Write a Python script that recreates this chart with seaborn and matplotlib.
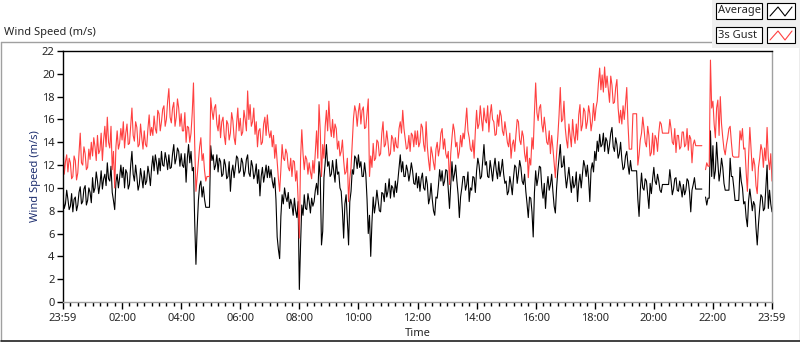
import matplotlib
matplotlib.use("Agg")
import matplotlib.pyplot as plt
import numpy as np
import pandas as pd
import seaborn as sns
from matplotlib.lines import Line2D
from matplotlib.patches import Rectangle
from matplotlib.ticker import MultipleLocator

nan = np.nan

# logger samples: on the 5-minute mark (23:59 -> 23:59 next day) and halfway between
minutes = np.arange(0, 24 * 60 + 1, 5)
half_minutes = minutes[:-1] + 2.5

# one row per hour; the last row of the on-mark lists carries the closing sample
average = [
    9.4, 8.6, 9.0, 8.4, 7.9, 9.2, 8.5, 10.1, 8.8, 10.2, 8.9, 9.6,
    10.9, 10.0, 10.6, 10.3, 9.9, 11.2, 12.2, 10.6, 9.6, 8.1, 11.2, 10.9,
    10.9, 10.0, 11.3, 10.3, 13.2, 10.6, 11.0, 10.3, 10.9, 11.5, 10.6, 11.2,
    11.8, 11.5, 12.2, 12.6, 13.2, 11.9, 12.5, 12.9, 11.8, 13.8, 12.6, 13.2,
    13.0, 11.8, 10.5, 13.8, 13.2, 11.8, 3.3, 8.9, 10.6, 10.1, 8.3, 8.3,
    13.7, 12.9, 12.0, 11.4, 12.3, 11.2, 12.0, 11.0, 9.7, 12.0, 11.8, 12.6,
    11.5, 12.2, 11.5, 12.9, 11.0, 11.9, 11.2, 10.4, 9.3, 11.8, 11.2, 10.9,
    10.9, 10.6, 10.9, 5.7, 3.8, 9.4, 10.0, 8.8, 8.2, 8.5, 9.1, 7.4,
    1.1, 8.5, 9.4, 8.1, 8.8, 9.1, 8.8, 10.4, 12.3, 5.0, 10.9, 13.8,
    12.3, 11.2, 11.4, 12.5, 11.4, 9.7, 5.6, 9.4, 5.0, 9.7, 11.2, 12.6,
    12.9, 12.3, 11.0, 11.2, 6.0, 4.0, 9.2, 8.6, 8.9, 7.9, 9.5, 10.4,
    9.7, 9.1, 10.0, 10.6, 10.6, 12.9, 12.3, 11.0, 11.5, 11.3, 11.5, 10.3,
    10.0, 9.7, 11.3, 9.8, 10.3, 9.1, 9.0, 7.6, 9.1, 11.6, 11.5, 10.6,
    11.5, 8.2, 12.3, 11.2, 10.6, 7.4, 10.0, 11.0, 10.3, 8.8, 9.8, 10.9,
    11.5, 12.0, 11.0, 13.8, 12.3, 10.9, 11.6, 11.8, 11.5, 12.3, 11.6, 11.2,
    10.6, 9.7, 10.3, 10.9, 11.8, 11.3, 11.8, 10.3, 9.7, 7.4, 9.1, 5.7,
    11.5, 10.9, 11.8, 9.1, 8.2, 11.0, 10.3, 9.7, 7.8, 11.5, 13.8, 11.9,
    11.1, 10.9, 10.6, 11.0, 10.3, 8.8, 11.2, 11.2, 11.9, 12.0, 8.8, 12.2,
    13.2, 14.1, 14.7, 13.8, 13.2, 14.1, 13.8, 15.3, 13.2, 13.8, 13.0, 12.5,
    11.8, 13.2, 11.2, 11.5, 11.5, 11.5, 7.5, 11.3, 9.8, 10.6, 8.2, 9.5,
    11.8, 10.3, 10.6, 9.6, 10.3, 10.3, 10.3, 10.6, 9.9, 10.9, 9.7, 10.0,
    10.3, 9.8, 10.6, 7.9, 10.3, 9.9, 9.9, 9.9, nan, 9.2, 9.1, 15.0,
    13.7, 11.5, 12.2, 11.4, 11.8, 9.8, 9.8, 12.6, 11.0, 8.9, 8.9, 11.8,
    10.0, 8.8, 6.6, 9.9, 8.0, 8.5, 5.0, 8.2, 9.2, 8.2, 12.0, 9.8, 7.9,
]

average_half = [
    8.2, 9.8, 8.1, 9.5, 9.0, 8.0, 9.6, 8.6, 9.9, 8.5, 10.0, 8.7,
    9.6, 11.4, 9.5, 11.5, 10.8, 10.2, 10.8, 11.9, 8.9, 10.5, 10.0, 12.0,
    11.8, 11.6, 9.9, 12.0, 11.2, 12.0, 9.8, 11.7, 10.0, 10.3, 11.9, 10.2,
    12.8, 12.9, 11.2, 11.5, 12.0, 13.1, 11.6, 11.7, 13.0, 12.1, 13.5, 11.9,
    12.0, 13.0, 12.6, 12.2, 11.5, 7.0, 6.5, 10.2, 9.2, 9.0, 8.3, 8.3,
    12.4, 11.6, 12.9, 12.6, 11.0, 12.5, 10.8, 12.3, 11.4, 10.9, 12.8, 11.3,
    12.6, 11.0, 12.5, 11.3, 12.4, 10.8, 12.1, 11.6, 11.0, 10.5, 12.0, 11.9,
    11.6, 10.0, 9.0, 4.6, 7.5, 8.6, 9.2, 9.6, 9.0, 7.6, 8.0, 8.8,
    5.0, 7.6, 8.2, 9.5, 7.8, 8.4, 9.8, 9.4, 11.0, 6.2, 12.2, 11.9,
    11.0, 12.4, 10.5, 11.2, 10.0, 8.0, 8.6, 7.2, 8.8, 11.6, 12.8, 11.7,
    11.8, 11.0, 12.2, 9.0, 7.6, 7.0, 7.8, 9.8, 8.0, 9.6, 8.8, 9.2,
    10.8, 10.2, 9.2, 9.6, 11.8, 11.4, 11.0, 12.0, 10.6, 12.2, 10.4, 11.3,
    11.0, 10.8, 10.0, 11.0, 8.6, 10.4, 8.0, 9.2, 10.2, 10.6, 10.2, 11.6,
    9.8, 10.2, 10.6, 12.0, 9.4, 9.2, 11.0, 9.8, 11.4, 10.0, 11.0, 9.6,
    12.6, 10.8, 12.4, 12.0, 11.0, 12.4, 10.6, 12.6, 10.8, 11.0, 12.5, 10.4,
    9.4, 11.0, 9.4, 12.0, 10.4, 12.4, 10.6, 11.2, 8.6, 9.2, 7.9, 9.6,
    10.2, 11.9, 10.0, 10.4, 10.0, 9.8, 11.2, 8.4, 10.0, 12.6, 11.8, 12.8,
    10.0, 11.8, 9.6, 10.0, 11.4, 10.4, 10.0, 12.4, 11.0, 10.8, 11.6, 11.4,
    12.4, 13.2, 13.6, 14.8, 14.4, 13.0, 14.8, 13.6, 14.4, 12.6, 14.0, 11.6,
    12.8, 12.0, 12.4, 11.5, 11.5, 9.0, 9.8, 10.0, 10.8, 9.4, 10.4, 10.8,
    10.6, 11.2, 9.8, 10.3, 10.3, 10.3, 11.6, 9.4, 10.8, 9.8, 10.6, 9.2,
    9.4, 10.8, 9.6, 9.8, 10.9, 9.9, 9.9, 9.9, nan, 8.5, 9.1, 11.0,
    10.8, 14.0, 10.6, 12.6, 10.4, 9.8, 9.8, 11.0, 10.0, 8.9, 8.9, 10.6,
    8.6, 7.4, 8.9, 9.0, 8.8, 6.5, 6.8, 9.4, 8.0, 10.0, 8.2, 8.6,
]

gust = [
    13.9, 12.3, 11.4, 12.2, 11.0, 12.4, 11.3, 14.8, 12.0, 13.0, 11.8, 12.5,
    12.8, 13.6, 14.6, 13.3, 12.4, 15.4, 16.2, 13.5, 11.6, 10.0, 15.0, 13.9,
    14.2, 13.5, 15.6, 13.9, 17.0, 14.1, 15.3, 13.8, 14.4, 15.0, 13.6, 16.4,
    15.3, 16.3, 14.8, 16.5, 15.8, 17.2, 16.0, 18.7, 15.7, 17.5, 16.2, 17.0,
    16.5, 15.0, 14.0, 15.3, 14.8, 19.2, 9.7, 12.2, 14.4, 13.0, 10.6, 11.0,
    17.9, 16.0, 17.3, 15.0, 14.4, 16.2, 13.8, 15.6, 14.8, 15.9, 13.8, 17.0,
    16.1, 14.9, 16.0, 18.5, 17.3, 15.8, 14.7, 13.6, 15.2, 14.0, 16.2, 16.4,
    14.4, 13.6, 12.6, 12.3, 9.7, 13.8, 12.4, 13.0, 11.5, 11.0, 12.3, 11.5,
    5.6, 15.1, 11.6, 12.5, 12.2, 10.8, 11.3, 15.0, 17.3, 11.0, 12.6, 16.8,
    17.6, 14.5, 14.4, 15.2, 14.1, 13.2, 12.4, 11.4, 8.8, 11.8, 16.1, 16.7,
    16.7, 15.6, 17.1, 15.3, 17.8, 12.8, 13.9, 12.6, 14.0, 13.0, 15.8, 13.8,
    14.0, 13.0, 14.3, 14.4, 13.5, 15.8, 16.8, 14.3, 13.5, 13.2, 14.6, 15.0,
    15.0, 14.0, 15.3, 13.2, 13.6, 11.5, 13.0, 11.6, 14.0, 13.5, 15.2, 14.3,
    12.6, 10.3, 14.4, 15.0, 14.0, 13.2, 13.6, 14.3, 17.0, 14.4, 13.2, 12.6,
    16.8, 15.6, 16.0, 17.0, 15.7, 14.9, 17.3, 15.8, 14.7, 15.4, 16.3, 14.6,
    15.0, 13.6, 12.6, 14.2, 14.7, 15.8, 13.8, 14.5, 12.3, 10.9, 12.0, 13.4,
    19.2, 15.9, 17.3, 14.9, 15.2, 13.8, 13.0, 13.5, 10.9, 14.5, 18.8, 16.0,
    15.3, 13.5, 14.6, 16.0, 13.9, 14.2, 17.3, 15.5, 16.7, 15.8, 16.5, 15.8,
    15.9, 17.6, 20.5, 19.9, 20.6, 19.8, 17.5, 19.0, 17.5, 19.5, 15.7, 15.6,
    16.0, 18.8, 13.4, 13.4, 16.5, 16.5, 12.9, 14.8, 15.2, 13.6, 14.6, 13.1,
    12.9, 14.3, 14.8, 15.6, 14.8, 14.8, 14.8, 15.2, 13.8, 13.1, 14.6, 13.6,
    14.9, 13.8, 13.3, 14.3, 13.8, 13.7, 13.7, 13.7, nan, 11.6, 11.9, 21.2,
    17.6, 14.4, 17.7, 18.0, 14.4, 12.9, 14.4, 15.4, 12.8, 12.7, 12.7, 15.0,
    15.2, 13.5, 9.7, 15.3, 11.5, 12.0, 9.5, 12.6, 13.3, 13.5, 15.3, 11.6, 10.6,
]

gust_half = [
    11.2, 12.9, 12.6, 10.8, 12.8, 10.7, 13.0, 12.2, 13.6, 11.6, 13.4, 14.0,
    14.4, 12.4, 13.0, 14.8, 14.2, 13.6, 14.0, 15.4, 13.2, 13.6, 13.4, 15.2,
    15.8, 14.8, 13.8, 15.4, 14.6, 15.8, 13.6, 15.6, 13.4, 13.8, 15.2, 14.6,
    14.6, 15.2, 16.8, 15.0, 16.9, 15.4, 17.6, 16.2, 17.0, 15.4, 17.8, 15.4,
    15.0, 16.6, 15.4, 14.0, 16.6, 13.8, 11.0, 13.6, 12.4, 11.5, 11.0, 11.0,
    16.8, 17.0, 15.6, 16.4, 15.8, 14.6, 15.9, 14.2, 16.6, 14.4, 15.6, 15.0,
    14.6, 16.8, 15.0, 16.0, 15.4, 17.0, 15.8, 15.0, 13.8, 15.6, 14.6, 15.0,
    15.0, 14.6, 13.8, 10.8, 11.6, 12.6, 13.4, 11.8, 12.6, 12.4, 10.6, 9.0,
    12.6, 13.0, 12.8, 11.2, 11.4, 12.4, 13.2, 12.6, 15.0, 13.8, 15.4, 15.0,
    15.4, 16.0, 15.6, 13.4, 12.8, 14.2, 11.2, 12.6, 10.8, 14.0, 17.2, 15.4,
    17.4, 16.8, 15.2, 16.6, 11.0, 11.8, 12.4, 14.2, 12.8, 14.8, 13.6, 15.0,
    12.8, 14.6, 13.2, 13.6, 15.2, 14.8, 15.2, 13.4, 14.6, 14.8, 13.6, 13.8,
    13.6, 15.6, 13.8, 15.8, 12.4, 13.6, 12.2, 13.4, 12.8, 14.8, 13.4, 13.0,
    13.2, 13.0, 15.6, 13.6, 12.6, 14.6, 14.8, 15.6, 15.0, 13.4, 14.2, 15.0,
    15.2, 17.2, 15.0, 16.0, 17.2, 16.4, 16.0, 14.6, 16.4, 16.8, 15.0, 15.8,
    14.0, 14.8, 13.8, 13.2, 16.0, 14.2, 15.0, 13.0, 13.6, 12.6, 14.4, 16.6,
    16.6, 17.0, 15.6, 16.2, 14.0, 15.0, 14.6, 12.2, 13.0, 16.4, 15.8, 17.6,
    14.2, 15.6, 13.6, 14.6, 15.6, 16.4, 15.0, 17.0, 15.2, 17.2, 15.0, 17.4,
    17.0, 19.2, 18.6, 18.4, 18.8, 18.6, 19.8, 17.4, 18.8, 17.0, 16.8, 17.2,
    17.4, 15.6, 13.4, 16.5, 16.5, 12.0, 14.2, 16.2, 14.0, 15.4, 12.8, 14.8,
    14.6, 13.2, 15.8, 14.8, 14.8, 14.8, 16.0, 14.0, 15.2, 14.6, 13.4, 14.9,
    13.6, 15.2, 14.6, 12.2, 14.2, 13.7, 13.7, 13.7, nan, 12.2, 11.9, 17.0,
    15.6, 17.0, 14.6, 15.6, 13.4, 13.8, 15.2, 14.0, 12.7, 12.7, 12.7, 14.2,
    13.4, 11.4, 12.8, 13.4, 12.6, 10.2, 11.8, 13.8, 11.8, 12.4, 12.6, 13.0,
]

series_names = ["Average", "3s Gust"]
series_colors = {"Average": "black", "3s Gust": "#ff4040"}
tick_hours = list(range(0, 25, 2))
tick_labels = ["23:59", "02:00", "04:00", "06:00", "08:00", "10:00", "12:00",
               "14:00", "16:00", "18:00", "20:00", "22:00", "23:59"]

W, H = 800, 342


def fx(px):
    return px / W


def fy(py):
    return 1 - py / H


def build_frame():
    frames = []
    for name, on_mark, half in zip(series_names, [average, gust], [average_half, gust_half]):
        part = pd.concat([
            pd.DataFrame({"hours": minutes / 60.0, "speed": on_mark}),
            pd.DataFrame({"hours": half_minutes / 60.0, "speed": half}),
        ]).sort_values("hours", ignore_index=True)
        # split at logging gaps so the line breaks there
        part["segment"] = part["speed"].isna().cumsum()
        part["series"] = name
        frames.append(part.dropna())
    return pd.concat(frames, ignore_index=True)


def draw_legend(fig):
    fig.patches.append(Rectangle((fx(712), fy(48)), fx(88), 48 / H, transform=fig.transFigure,
                                 facecolor="#f0f0f0", edgecolor="none", zorder=2))
    for name, top in zip(series_names, [3, 27]):
        fig.patches.append(Rectangle((fx(716), fy(top + 16)), fx(46), 16 / H, transform=fig.transFigure,
                                     facecolor="white", edgecolor="black", linewidth=0.8, zorder=3))
        fig.text(fx(718), fy(top + 8), name, ha="left", va="center", fontsize=8, zorder=4)
        fig.patches.append(Rectangle((fx(767), fy(top + 16)), fx(28), 16 / H, transform=fig.transFigure,
                                     facecolor="white", edgecolor="black", linewidth=0.8, zorder=3))
        zx = [fx(770), fx(778), fx(785), fx(792)]
        zy = [fy(top + 13), fy(top + 4), fy(top + 13), fy(top + 4)]
        fig.lines.append(Line2D(zx, zy, transform=fig.transFigure, color=series_colors[name],
                                linewidth=0.8, zorder=4))


def draw_panel(fig):
    gray = "#a0a0a0"
    fig.lines.append(Line2D([fx(0.5), fx(0.5)], [fy(42), fy(340)], transform=fig.transFigure, color=gray, lw=1))
    fig.lines.append(Line2D([fx(0.5), fx(712)], [fy(42), fy(42)], transform=fig.transFigure, color=gray, lw=1))
    fig.lines.append(Line2D([fx(799.5), fx(799.5)], [fy(48), fy(340)], transform=fig.transFigure, color=gray, lw=1))
    fig.lines.append(Line2D([fx(0.5), fx(799.5)], [fy(340.5), fy(340.5)], transform=fig.transFigure,
                            color="#202020", lw=1.2))
    fig.text(fx(4), fy(32), "Wind Speed (m/s)", ha="left", va="center", fontsize=8)


def main():
    sns.set_style("white")
    plt.rcParams["font.family"] = ["Noto Sans", "DejaVu Sans"]

    df = build_frame()

    fig = plt.figure(figsize=(W / 100, H / 100), dpi=100)
    ax = fig.add_axes([fx(63), fy(302), fx(772 - 63), 251 / H])

    sns.lineplot(data=df, x="hours", y="speed", hue="series", hue_order=series_names,
                 units="segment", estimator=None, palette=series_colors,
                 linewidth=0.8, legend=False, ax=ax)

    ax.set_xlim(0, 24)
    ax.set_ylim(0, 22)
    ax.set_xticks(tick_hours)
    ax.set_xticklabels(tick_labels)
    ax.xaxis.set_minor_locator(MultipleLocator(0.25))
    ax.set_yticks(range(0, 23, 2))
    ax.tick_params(axis="x", which="major", direction="out", length=5, width=1, color="black",
                   labelsize=8, pad=3, bottom=True)
    ax.tick_params(axis="x", which="minor", direction="out", length=3, width=1, color="black", bottom=True)
    ax.tick_params(axis="y", which="major", direction="out", length=4, width=1, color="black",
                   labelsize=8, pad=2, left=True)

    ax.set_xlabel("Time", fontsize=8, labelpad=3)
    ax.set_ylabel("Wind Speed (m/s)", fontsize=8, color="#1e2f70", labelpad=1)

    for side in ["top", "left"]:
        ax.spines[side].set_color("black")
        ax.spines[side].set_linewidth(1)
    for side in ["right", "bottom"]:
        ax.spines[side].set_color("#a0a0a0")
        ax.spines[side].set_linewidth(1)

    draw_panel(fig)
    draw_legend(fig)

    fig.savefig("out.png", dpi=100, facecolor="white")
    plt.close(fig)


if __name__ == "__main__":
    main()
